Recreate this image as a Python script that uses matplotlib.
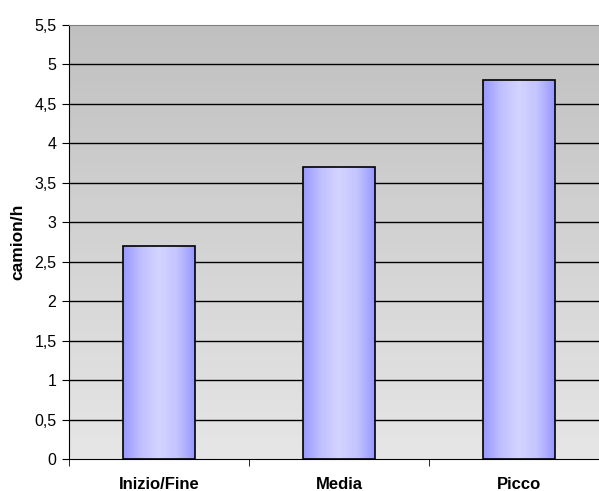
import matplotlib
matplotlib.use("Agg")
import matplotlib.pyplot as plt
from matplotlib.colors import LinearSegmentedColormap
from matplotlib.ticker import FuncFormatter
import numpy as np

# data
categories = ["Inizio/Fine", "Media", "Picco"]
values = [2.7, 3.7, 4.8]
yticks = [0, 0.5, 1, 1.5, 2, 2.5, 3, 3.5, 4, 4.5, 5, 5.5]

plt.rcParams['font.family'] = ['Liberation Sans', 'DejaVu Sans']

fig = plt.figure(figsize=(5.99, 4.91), dpi=100)
ax = fig.add_axes([69/599, 32/491, 540/599, 434/491])

x = np.arange(len(categories))

# background gradient (dark at top, light at bottom)
bg = LinearSegmentedColormap.from_list("bg", ["#e6e6e6", "#c0c0c0"])
grad = np.linspace(0, 1, 256).reshape(-1, 1)
ax.imshow(grad, cmap=bg, aspect="auto", origin="lower",
          extent=[-0.5, len(categories) - 0.5, 0, 5.5], zorder=0)

# gridlines
for t in yticks[1:-1]:
    ax.axhline(t, color="black", lw=1, zorder=1)

# bars with horizontal gradient
barcmap = LinearSegmentedColormap.from_list(
    "bar", ["#9898ff", "#c0c0ff", "#d4d4ff", "#c4c4ff", "#9898ff"])
hgrad = np.linspace(0, 1, 256).reshape(1, -1)
width = 0.4
bars = ax.bar(x, values, width=width, facecolor="none",
              edgecolor="black", lw=1.2, zorder=3)
for b in bars:
    im = ax.imshow(hgrad, cmap=barcmap, aspect="auto",
                   extent=[b.get_x(), b.get_x() + b.get_width(), 0, b.get_height()],
                   zorder=2)
    im.set_clip_path(b)

ax.set_xlim(-0.5, len(categories) - 0.5)
ax.set_ylim(0, 5.5)

ax.set_yticks(yticks)
ax.yaxis.set_major_formatter(FuncFormatter(lambda v, p: ("%g" % v).replace(".", ",")))
ax.set_xticks(x)
ax.set_xticklabels(categories, fontweight="bold", fontsize=12)
ax.tick_params(axis="x", length=0, pad=13)
ax.set_xticks(np.arange(-0.5, len(categories)), minor=True)
ax.tick_params(axis="x", which="minor", length=5, direction="out", color="black")
ax.tick_params(axis="y", length=5, direction="out", labelsize=11.5, color="black", pad=4)

for s in ["left", "bottom"]:
    ax.spines[s].set_color("black")
ax.spines["top"].set_color("#808080")
ax.spines["right"].set_visible(False)

ax.set_ylabel("camion/h", fontweight="bold", fontsize=12.5)
ax.yaxis.set_label_coords(-44/540, 0.5)

fig.savefig("out.png", dpi=100)
